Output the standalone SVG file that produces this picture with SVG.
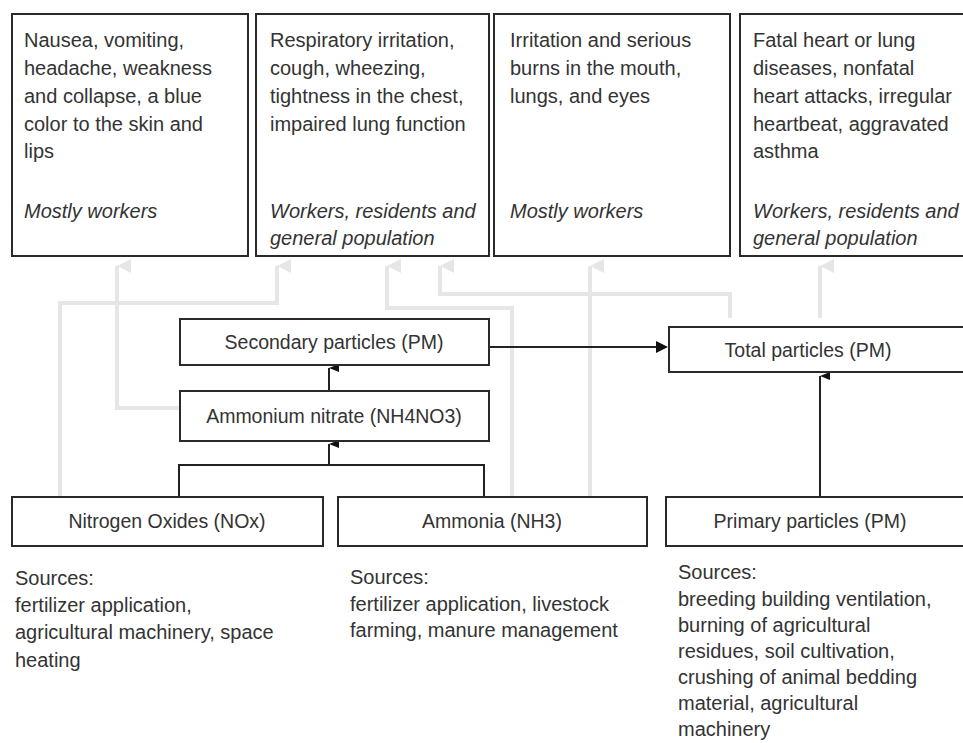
<svg xmlns="http://www.w3.org/2000/svg" width="963" height="743" viewBox="0 0 963 743">
<defs>
<style>
.box{fill:#fff;stroke:#2a2a2a;stroke-width:2}
.t{font-family:"Liberation Sans",Arial,sans-serif;font-size:20px;fill:#333}
.i{font-style:italic}
.c{text-anchor:middle;font-size:19.5px}
.g{fill:none;stroke:#e6e6e6;stroke-width:4}
.k{fill:none;stroke:#222;stroke-width:2}
</style>
<marker id="ga" markerUnits="userSpaceOnUse" markerWidth="16" markerHeight="16" refX="8" refY="1" orient="auto-start-reverse" viewBox="0 0 16 16">
<path d="M1,15 L8,1 L15,15 Z" fill="#e6e6e6"/>
</marker>
<marker id="ka" markerUnits="userSpaceOnUse" markerWidth="12" markerHeight="12" refX="6" refY="1" orient="auto-start-reverse" viewBox="0 0 12 12">
<path d="M2,11 L6,1 L10,11 Z" fill="#111"/>
</marker>
</defs>
<rect width="963" height="743" fill="#fff"/>

<g id="connectors">
<path class="g" d="M60,497 V303 H277 V266" marker-end="url(#ga)"/>
<path class="g" d="M180,408 H117 V266" marker-end="url(#ga)"/>
<path class="g" d="M512,497 V308 H387 V266" marker-end="url(#ga)"/>
<path class="g" d="M730,318 V294 H440 V266" marker-end="url(#ga)"/>
<path class="g" d="M590,497 V266" marker-end="url(#ga)"/>
<path class="g" d="M820,318 V266" marker-end="url(#ga)"/>
<path class="k" d="M329,391 V368" marker-end="url(#ka)"/>
<path class="k" d="M179,497 V465 H484 V497"/>
<path class="k" d="M329,465 V444" marker-end="url(#ka)"/>
<path class="k" d="M489,347 H658"/>
<path d="M656,341 L668,347 L656,353 Z" fill="#111"/>
<path class="k" d="M820,497 V376" marker-end="url(#ka)"/>
</g>

<g id="effect1">
<rect class="box" x="12" y="14" width="236" height="242"/>
<text class="t" x="24" y="47">Nausea, vomiting,</text>
<text class="t" x="24" y="75">headache, weakness</text>
<text class="t" x="24" y="103">and collapse, a blue</text>
<text class="t" x="24" y="131">color to the skin and</text>
<text class="t" x="24" y="158">lips</text>
<text class="t i" x="24" y="218">Mostly workers</text>
</g>
<g id="effect2">
<rect class="box" x="256" y="14" width="233" height="242"/>
<text class="t" x="270" y="47">Respiratory irritation,</text>
<text class="t" x="270" y="75">cough, wheezing,</text>
<text class="t" x="270" y="103">tightness in the chest,</text>
<text class="t" x="270" y="131">impaired lung function</text>
<text class="t i" x="270" y="218">Workers, residents and</text>
<text class="t i" x="270" y="245">general population</text>
</g>
<g id="effect3">
<rect class="box" x="494" y="14" width="236" height="242"/>
<text class="t" x="510" y="47">Irritation and serious</text>
<text class="t" x="510" y="75">burns in the mouth,</text>
<text class="t" x="510" y="103">lungs, and eyes</text>
<text class="t i" x="510" y="218">Mostly workers</text>
</g>
<g id="effect4">
<rect class="box" x="740" y="14" width="240" height="242"/>
<text class="t" x="753" y="47">Fatal heart or lung</text>
<text class="t" x="753" y="75">diseases,  nonfatal</text>
<text class="t" x="753" y="103">heart attacks, irregular</text>
<text class="t" x="753" y="131">heartbeat, aggravated</text>
<text class="t" x="753" y="158">asthma</text>
<text class="t i" x="753" y="218">Workers, residents and</text>
<text class="t i" x="753" y="245">general population</text>
</g>

<g id="secondary">
<rect class="box" x="180" y="319" width="309" height="46"/>
<text class="t c" x="334" y="349">Secondary particles (PM)</text>
</g>
<g id="nitrate">
<rect class="box" x="180" y="391" width="309" height="50"/>
<text class="t c" x="334" y="423">Ammonium nitrate (NH4NO3)</text>
</g>
<g id="total">
<rect class="box" x="669" y="327" width="310" height="45"/>
<text class="t c" x="808" y="357">Total particles (PM)</text>
</g>

<g id="nox">
<rect class="box" x="12" y="497" width="311" height="49"/>
<text class="t c" x="167" y="528">Nitrogen Oxides (NOx)</text>
<text class="t" x="15" y="585">Sources:</text>
<text class="t" x="15" y="612">fertilizer application,</text>
<text class="t" x="15" y="639">agricultural machinery, space</text>
<text class="t" x="15" y="667">heating</text>
</g>
<g id="ammonia">
<rect class="box" x="338" y="497" width="309" height="49"/>
<text class="t c" x="492" y="528">Ammonia (NH3)</text>
<text class="t" x="350" y="584">Sources:</text>
<text class="t" x="350" y="611">fertilizer application, livestock</text>
<text class="t" x="350" y="637">farming, manure management</text>
</g>
<g id="primary">
<rect class="box" x="666" y="497" width="313" height="49"/>
<text class="t c" x="810" y="528">Primary particles (PM)</text>
<text class="t" x="678" y="579">Sources:</text>
<text class="t" x="678" y="606">breeding building ventilation,</text>
<text class="t" x="678" y="632">burning of agricultural</text>
<text class="t" x="678" y="658">residues, soil cultivation,</text>
<text class="t" x="678" y="684">crushing of animal bedding</text>
<text class="t" x="678" y="710">material, agricultural</text>
<text class="t" x="678" y="736">machinery</text>
</g>
</svg>
